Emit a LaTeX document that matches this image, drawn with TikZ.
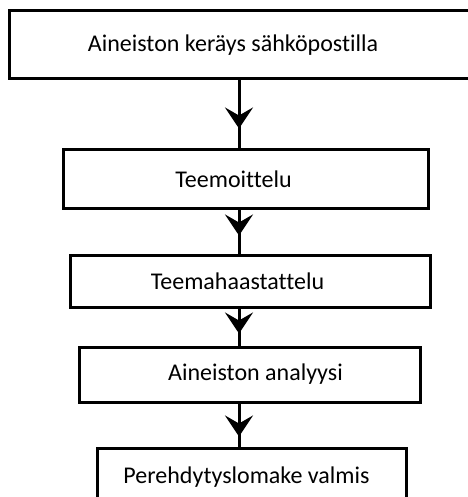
\documentclass[tikz,border=0pt]{standalone}
\usepackage{fontspec}
\setmainfont{Carlito}[Ligatures=CommonOff]
\usetikzlibrary{arrows.meta,decorations.markings}

\begin{document}
\begin{tikzpicture}[x=1pt,y=-1pt,
    box/.style={draw,rectangle,line width=3pt,inner sep=0pt,font=\fontsize{24}{28}\selectfont},
    flow/.style={line width=3pt,postaction={decorate,decoration={markings,
        mark=at position #1 with {\arrow{Stealth[length=21pt,width=28pt,inset=8pt]}}}}}]
  \useasboundingbox (0,0) rectangle (467,497);
  \coordinate (axis) at (239,0);
  \node[box,minimum width=462pt,minimum height=68pt] (keruu) at (240,45)
    {\hspace*{-14pt}Aineiston keräys sähköpostilla};
  \node[box,minimum width=365pt,minimum height=58pt] (teemat) at (245.5,179)
    {\hspace*{-24pt}Teemoittelu};
  \node[box,minimum width=360pt,minimum height=52pt] (haastattelu) at (250,281)
    {\hspace*{-25pt}Teemahaastattelu};
  \node[box,minimum width=341pt,minimum height=55pt] (analyysi) at (249.5,374.5)
    {\hspace*{12pt}Aineiston analyysi};
  \node[box,minimum width=309pt,minimum height=58pt] (valmis) at (251.5,477)
    {\hspace*{-10pt}Perehdytyslomake valmis};
  \draw[flow=-20pt] (keruu.south -| axis) -- (teemat.north -| axis);
  \draw[flow=-18pt] (teemat.south -| axis) -- (haastattelu.north -| axis);
  \draw[flow=-12pt] (haastattelu.south -| axis) -- (analyysi.north -| axis);
  \draw[flow=-10pt] (analyysi.south -| axis) -- (valmis.north -| axis);
\end{tikzpicture}
\end{document}
